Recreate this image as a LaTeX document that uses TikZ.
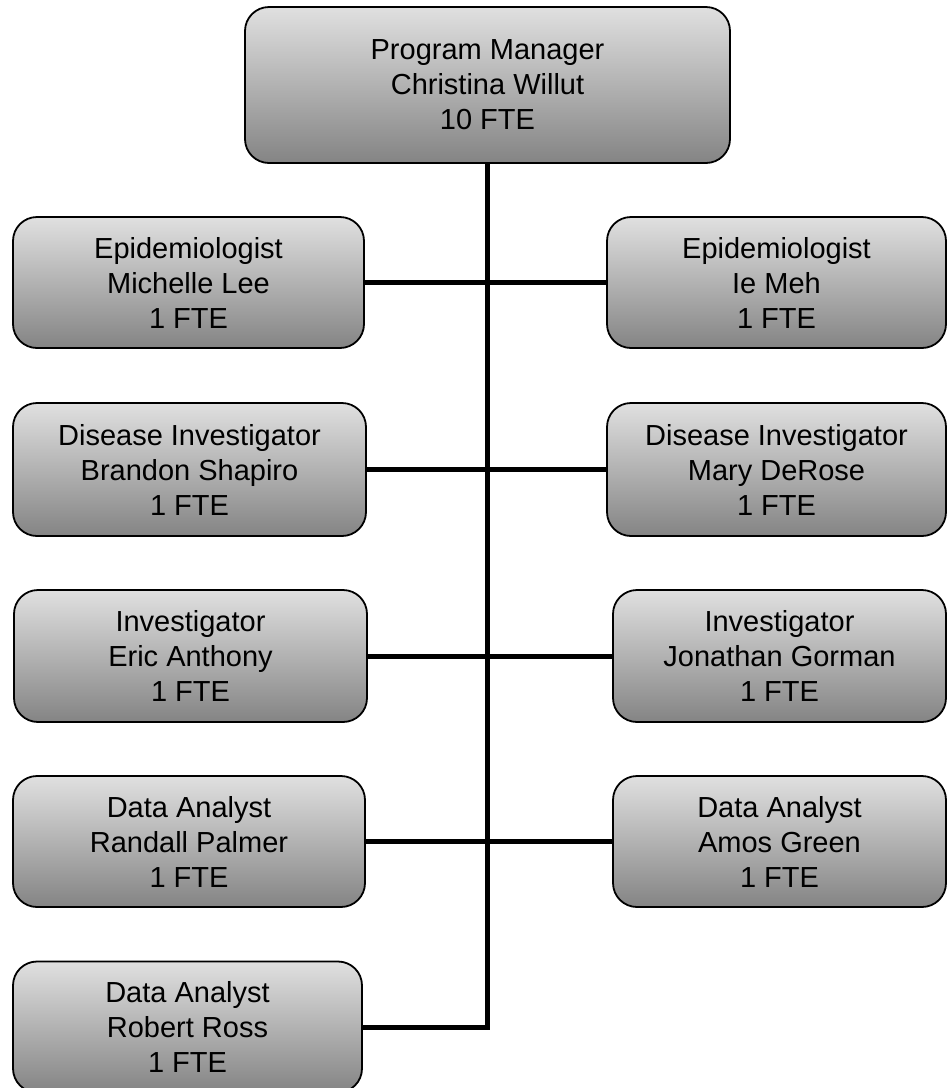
\documentclass[tikz,border=0pt]{standalone}
\usepackage{fontspec}
\setmainfont{Liberation Sans}
\definecolor{boxtop}{RGB}{224,224,224}
\definecolor{boxbottom}{RGB}{132,132,132}
\begin{document}
\begin{tikzpicture}[x=1pt,y=-1pt,
  box/.style={draw=black, line width=1.8pt, rounded corners=24pt,
    top color=boxtop, bottom color=boxbottom, align=center,
    inner sep=0pt, outer sep=0pt,
    font=\fontsize{29}{35}\selectfont},
  link/.style={draw=black, line width=5pt}]
\useasboundingbox (0,0) rectangle (948,1088);

% head of the programme
\node[box, minimum width=485, minimum height=156] (pm) at (487.5,85)
  {Program Manager\\Christina Willut\\10 FTE};

% left column
\node[box, minimum width=351, minimum height=131] (l1) at (188.5,282.5)
  {Epidemiologist\\Michelle Lee\\1 FTE};
\node[box, minimum width=353, minimum height=133] (l2) at (189.5,469.5)
  {Disease Investigator\\Brandon Shapiro\\1 FTE};
\node[box, minimum width=353, minimum height=132] (l3) at (190.5,656)
  {Investigator\\Eric Anthony\\1 FTE};
\node[box, minimum width=352, minimum height=131] (l4) at (189,841.5)
  {Data Analyst\\Randall Palmer\\1 FTE};
\node[box, minimum width=349, minimum height=131] (l5) at (187.5,1027)
  {Data Analyst\\Robert Ross\\1 FTE};

% right column
\node[box, minimum width=339, minimum height=131] (r1) at (776.5,282.5)
  {Epidemiologist\\Ie Meh\\1 FTE};
\node[box, minimum width=339, minimum height=133] (r2) at (776.5,469.5)
  {Disease Investigator\\Mary DeRose\\1 FTE};
\node[box, minimum width=333, minimum height=132] (r3) at (779.5,656)
  {Investigator\\Jonathan Gorman\\1 FTE};
\node[box, minimum width=333, minimum height=131] (r4) at (779.5,841.5)
  {Data Analyst\\Amos Green\\1 FTE};

% reporting lines
\coordinate (bend) at (pm.south |- l5.east);
\draw[link, line join=miter] (pm.south) -- (bend) -- (l5.east);
\draw[link] (l1.east) -- (r1.west);
\draw[link] (l2.east) -- (r2.west);
\draw[link] (l3.east) -- (r3.west);
\draw[link] (l4.east) -- (r4.west);
\end{tikzpicture}
\end{document}
